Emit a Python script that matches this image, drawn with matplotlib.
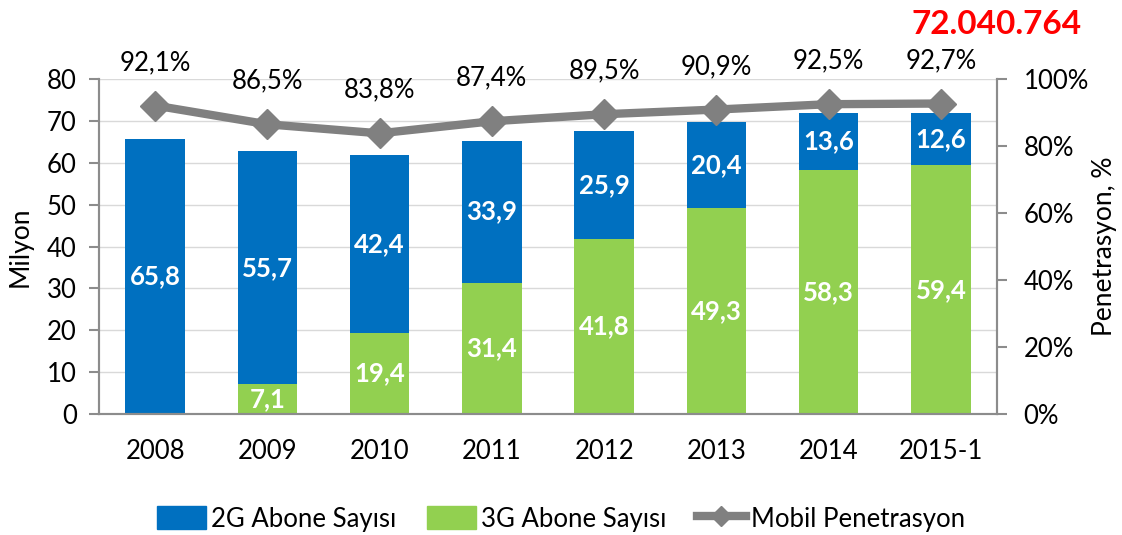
import numpy as np
import matplotlib.pyplot as plt
from matplotlib.lines import Line2D
from matplotlib.patches import Patch

plt.rcParams["font.family"] = ["Lato", "DejaVu Sans"]

years = ["2008", "2009", "2010", "2011", "2012", "2013", "2014", "2015-1"]
abone_2g = [65.8, 55.7, 42.4, 33.9, 25.9, 20.4, 13.6, 12.6]
abone_3g = [0.0, 7.1, 19.4, 31.4, 41.8, 49.3, 58.3, 59.4]
penetrasyon = [92.1, 86.5, 83.8, 87.4, 89.5, 90.9, 92.5, 92.7]
toplam_text = "72.040.764"

BLUE = "#0070C0"
GREEN = "#92D050"
GRAY = "#808080"
SPINE = "#8c8c8c"


def fmt(v):
    return f"{v:.1f}".replace(".", ",")


def main():
    fig = plt.figure(figsize=(11.22, 5.35), dpi=100)
    ax = fig.add_axes([0.0882, 0.2262, 0.8004, 0.626])
    ax2 = ax.twinx()

    x = np.arange(len(years))
    w = 0.53
    ax.bar(x, abone_3g, w, color=GREEN, zorder=2)
    ax.bar(x, abone_2g, w, bottom=abone_3g, color=BLUE, zorder=2)

    for xi, g2, g3 in zip(x, abone_2g, abone_3g):
        ax.text(xi, g3 + g2 / 2, fmt(g2), ha="center", va="center",
                color="white", fontsize=18.5, fontweight="bold", zorder=3)
        if g3 > 0:
            ax.text(xi, g3 / 2, fmt(g3), ha="center", va="center",
                    color="white", fontsize=18.5, fontweight="bold", zorder=3)

    ax.set_xlim(-0.5, len(years) - 0.5)
    ax.set_ylim(0, 80)
    ax.set_yticks(range(0, 81, 10))
    ax.set_xticks(x)
    ax.set_xticklabels(years)
    ax.set_ylabel("Milyon", fontsize=19, labelpad=10)
    ax.grid(axis="y", color="#d9d9d9", linewidth=1, zorder=0)
    ax.set_axisbelow(True)

    ax2.plot(x, penetrasyon, color=GRAY, linewidth=6, marker="D",
             markersize=15, zorder=4, clip_on=False)
    for xi, p in zip(x, penetrasyon):
        ax2.annotate(fmt(p) + "%", (xi, p), xytext=(0, 22),
                     textcoords="offset points", ha="center", va="bottom",
                     fontsize=18.5)
    ax2.set_ylim(0, 100)
    ax2.set_yticks(range(0, 101, 20))
    ax2.set_yticklabels([f"{v}%" for v in range(0, 101, 20)])
    ax2.set_ylabel("Penetrasyon, %", fontsize=19, labelpad=2)

    for a in (ax, ax2):
        a.spines["top"].set_visible(False)
        for side in ("left", "right", "bottom"):
            a.spines[side].set_color(SPINE)
            a.spines[side].set_linewidth(1.5)
        a.tick_params(axis="y", labelsize=18.5, color=SPINE, width=1.5,
                      length=7)
    ax.tick_params(axis="y", pad=9)
    ax2.tick_params(axis="y", pad=12)
    ax.tick_params(axis="x", labelsize=18.5, length=0, pad=18)

    fig.text(0.888, 0.955, toplam_text, ha="center", va="center",
             color="#FF0000", fontsize=24, fontweight="bold")

    handles = [
        Patch(color=BLUE, label="2G Abone Sayısı"),
        Patch(color=GREEN, label="3G Abone Sayısı"),
        Line2D([], [], color=GRAY, linewidth=6, marker="D", markersize=10,
               label="Mobil Penetrasyon"),
    ]
    fig.legend(handles=handles, loc="center", bbox_to_anchor=(0.5, 0.03),
               ncol=3, frameon=False, fontsize=18.5, handlelength=1.9,
               handleheight=1.0, handletextpad=0.2, columnspacing=1.2)

    fig.savefig("out.png", dpi=100)


if __name__ == "__main__":
    main()
